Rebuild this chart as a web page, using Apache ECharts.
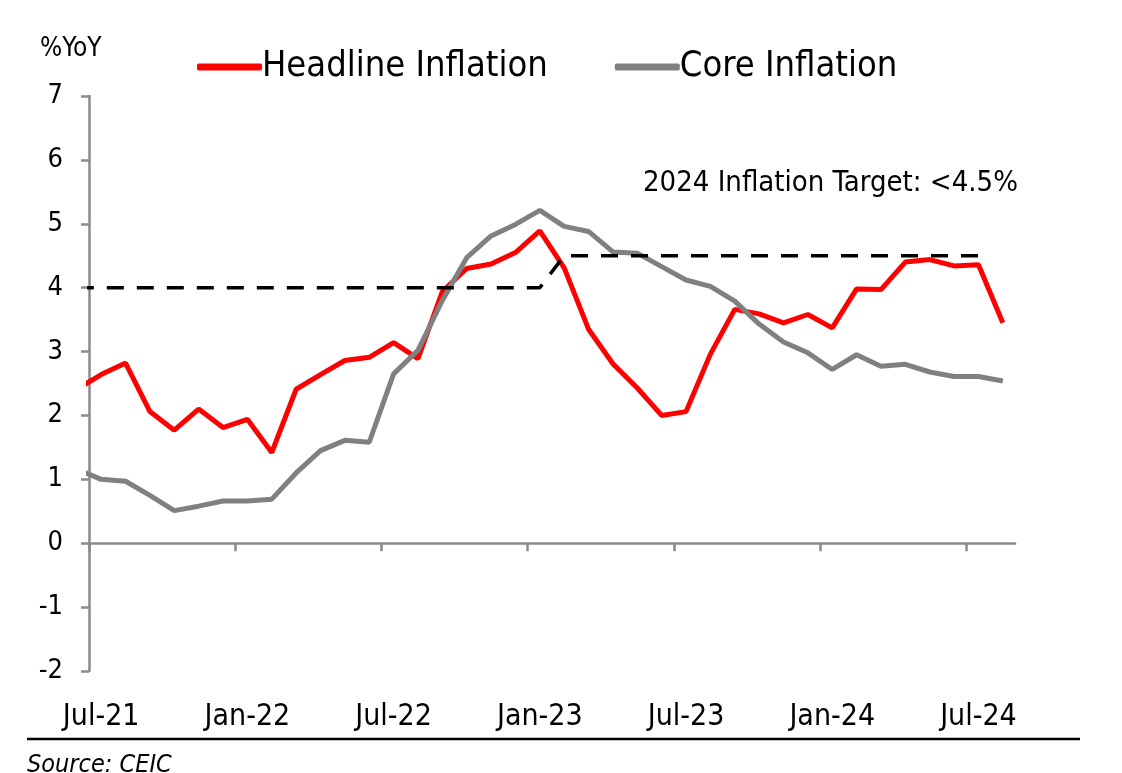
<!DOCTYPE html>
<html>
<head>
<meta charset="utf-8">
<script src="https://cdn.jsdelivr.net/npm/echarts@6/dist/echarts.min.js"></script>
<style>
html,body{margin:0;padding:0;background:#fff;}
#chart{width:1122px;height:773px;}
</style>
</head>
<body>
<div id="chart"></div>
<script>
// Months Jun-21 .. Aug-24 (Jun-21 lies just left of the axis start and is clipped)
var months = ['Jun-21','Jul-21','Aug-21','Sep-21','Oct-21','Nov-21','Dec-21',
  'Jan-22','Feb-22','Mar-22','Apr-22','May-22','Jun-22','Jul-22','Aug-22','Sep-22','Oct-22','Nov-22','Dec-22',
  'Jan-23','Feb-23','Mar-23','Apr-23','May-23','Jun-23','Jul-23','Aug-23','Sep-23','Oct-23','Nov-23','Dec-23',
  'Jan-24','Feb-24','Mar-24','Apr-24','May-24','Jun-24','Jul-24','Aug-24'];
var headline = [2.41,2.64,2.82,2.06,1.77,2.10,1.81,
  1.94,1.42,2.41,2.64,2.86,2.91,3.14,2.89,3.94,4.30,4.37,4.55,
  4.89,4.31,3.35,2.81,2.43,2.00,2.06,2.96,3.66,3.59,3.45,3.58,
  3.37,3.98,3.97,4.40,4.44,4.34,4.36,3.45];
var core = [1.16,1.00,0.97,0.75,0.51,0.58,0.66,
  0.66,0.69,1.10,1.45,1.61,1.58,2.65,3.02,3.80,4.47,4.81,4.99,
  5.21,4.96,4.88,4.56,4.54,4.33,4.12,4.02,3.79,3.43,3.15,2.98,
  2.72,2.95,2.77,2.80,2.68,2.61,2.61,2.54];
var target = [4,4,4,4,4,4,4,
  4,4,4,4,4,4,4,4,4,4,4,4,
  4,4.5,4.5,4.5,4.5,4.5,4.5,4.5,4.5,4.5,4.5,4.5,
  4.5,4.5,4.5,4.5,4.5,4.5,4.5,null];
var yTicks = {min:-2, max:7, step:1};
var axisMonths = months.slice(1); // Jul-21 .. Aug-24, one band per month
var annotation = '2024 Inflation Target: <4.5%';
var yTitle = '%YoY';
var sourceText = 'Source: CEIC';

var FONT = '"DejaVu Sans Condensed", "Liberation Sans Narrow", "DejaVu Sans", sans-serif';
var AX = '#8a8a8a';

function pts(arr){
  // month band index: Jul-21 band starts at 0, points sit mid-month
  return arr.map(function(v,i){ return [i - 0.5, v]; });
}
var xTickValues = [];
for (var t = 0; t < axisMonths.length; t += 6) xTickValues.push(t);

var chart = echarts.init(document.getElementById('chart'), null, {renderer:'canvas'});
chart.setOption({
  animation:false,
  backgroundColor:'#fff',
  grid:{left:89, right:107, top:96, bottom:102, containLabel:false},
  legend:{
    data:['Headline Inflation','Core Inflation'],
    left:192, top:44,
    icon:'roundRect', itemWidth:65, itemHeight:7, itemGap:67,
    textStyle:{fontFamily:FONT, fontSize:36, color:'#000', padding:[0,0,0,-5]}
  },
  xAxis:[{
    type:'value', min:0, max:axisMonths.length, interval:6,
    axisLine:{show:true, onZero:true, lineStyle:{color:AX, width:2.5}},
    axisTick:{show:true, length:8, customValues:xTickValues, lineStyle:{color:AX, width:2.5}},
    axisLabel:{show:false},
    splitLine:{show:false}
  },{
    type:'category', data:axisMonths, boundaryGap:true, position:'bottom',
    axisLine:{show:false}, axisTick:{show:false}, splitLine:{show:false},
    axisLabel:{interval:5, margin:31, fontFamily:FONT, fontSize:30, color:'#000'}
  }],
  yAxis:{
    type:'value', min:yTicks.min, max:yTicks.max, interval:yTicks.step,
    axisLine:{show:true, lineStyle:{color:AX, width:2.5}},
    axisTick:{show:true, length:8, lineStyle:{color:AX, width:2.5}},
    axisLabel:{margin:26, fontFamily:FONT, fontSize:27, color:'#000'},
    splitLine:{show:false}
  },
  series:[{
    name:'Headline Inflation', type:'line', xAxisIndex:0, data:pts(headline),
    symbol:'none', lineStyle:{color:'#ff0000', width:5}, itemStyle:{color:'#ff0000'}, z:2
  },{
    name:'Core Inflation', type:'line', xAxisIndex:0, data:pts(core),
    symbol:'none', lineStyle:{color:'#808080', width:5}, itemStyle:{color:'#808080'}, z:3
  },{
    name:'Target', type:'line', xAxisIndex:0, data:pts(target),
    symbol:'none', lineStyle:{color:'#000', width:3.5, type:[17,13]}, z:4
  }],
  graphic:[
    {type:'text', left:40, top:36, style:{text:yTitle, font:'26px '+FONT, fill:'#000'}},
    {type:'text', left:643, top:169, style:{text:annotation, font:'29px '+FONT, fill:'#000'}},
    {type:'line', shape:{x1:27, y1:739, x2:1080, y2:739}, style:{stroke:'#000', lineWidth:2.5}},
    {type:'text', left:27, top:753, style:{text:sourceText, font:'italic 25px '+FONT, fill:'#000'}}
  ]
});
</script>
</body>
</html>
